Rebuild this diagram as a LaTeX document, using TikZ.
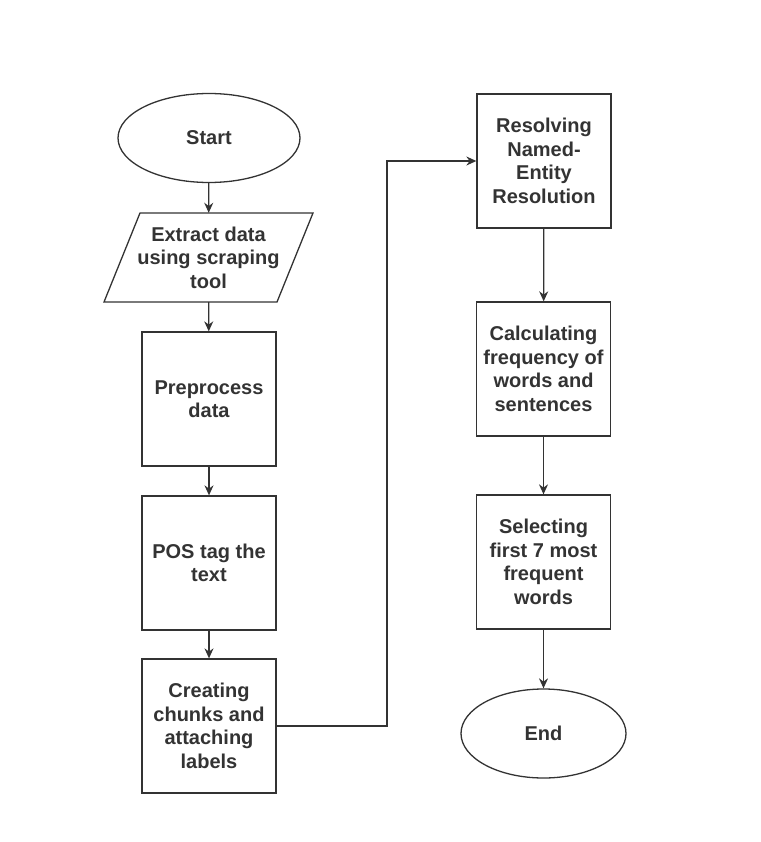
\documentclass[tikz,border=0pt]{standalone}
\usepackage{fontspec}
\setmainfont{Liberation Sans}
\usetikzlibrary{shapes.geometric,arrows.meta}
\definecolor{ink}{HTML}{333333}
\tikzset{
  x=1pt,y=-1pt,
  every node/.style={font=\fontsize{20}{23.5}\selectfont\bfseries, text=ink, align=center},
  procbox/.style={draw=ink, line width=1.3pt, minimum width=134pt, minimum height=134pt, inner sep=0pt},
  term/.style={draw=ink, line width=1.3pt, ellipse, inner sep=0pt},
  arr/.style={draw=ink, line width=1.3pt, -{Stealth[length=10pt,width=9pt]}}
}
\begin{document}
\begin{tikzpicture}
\useasboundingbox (0,0) rectangle (760,842);
\node[term, minimum width=182pt, minimum height=89pt] (start) at (209,138) {Start};
\draw[ink, line width=1.3pt] (104,302) -- (140,213) -- (313,213) -- (277,302) -- cycle;
\node[minimum height=89pt, minimum width=10pt, inner sep=0pt] (extract) at (208.5,257.5) {Extract data\\using scraping\\tool};
\node[procbox] (prep) at (209,399) {Preprocess\\data};
\node[procbox] (pos) at (209,563) {POS tag the\\text};
\node[procbox] (chunks) at (209,726) {Creating\\chunks and\\attaching\\labels};
\node[procbox] (resolve) at (544,161) {Resolving\\Named-\\Entity\\Resolution};
\node[procbox] (calc) at (543.5,369) {Calculating\\frequency of\\words and\\sentences};
\node[procbox] (select) at (543.5,562) {Selecting\\first 7 most\\frequent\\words};
\node[term, minimum width=165pt, minimum height=89pt] (end) at (543.5,733.5) {End};
\coordinate (bend) at (387,726);
\draw[arr] (start) -- (extract);
\draw[arr] (extract) -- (prep);
\draw[arr] (prep) -- (pos);
\draw[arr] (pos) -- (chunks);
\draw[arr] (chunks.east) -- (bend) |- (resolve.west);
\draw[arr] (resolve) -- (calc);
\draw[arr] (calc) -- (select);
\draw[arr] (select) -- (end);
\end{tikzpicture}
\end{document}
